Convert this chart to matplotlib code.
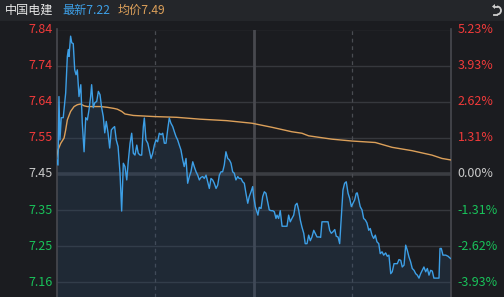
import matplotlib
matplotlib.use("Agg")
import matplotlib.pyplot as plt
from matplotlib.lines import Line2D
from matplotlib.patches import Rectangle, Arc, Polygon

plt.rcParams['font.family'] = ['Noto Sans CJK SC', 'DejaVu Sans']

# ---------------- data ----------------
stock_name = "中国电建"
last_label = "最新7.22"
avg_label = "均价7.49"

pre_close = 7.45
top_price = 7.84
left_labels = ['7.84', '7.74', '7.64', '7.55', '7.45', '7.35', '7.25', '7.16']
right_labels = ['5.23%', '3.93%', '2.62%', '1.31%', '0.00%', '-1.31%', '-2.62%', '-3.93%']

minutes = [0.1, 0.9, 1.5, 2.1, 2.9, 4.1, 5.6, 6.6, 7.2, 7.6, 8.6, 9.3, 10.2, 11.1, 11.9, 12.7,
           13.7, 14.8, 15.7, 16.8, 17.8, 18.8, 19.8, 20.8, 21.4, 22.4, 23.3, 24.5, 25.5, 26.5,
           27.5, 28.5, 29.4, 30.3, 31.4, 32.4, 33.4, 34.4, 35.4, 36.4, 37.5, 38.7, 39.7, 40.7,
           41.7, 42.8, 43.7, 44.8, 45.8, 46.8, 47.8, 48.9, 49.8, 50.9, 51.9, 52.9, 53.5, 54.5,
           55.6, 56.5, 57.6, 58.6, 59.6, 60.6, 61.6, 62.6, 63.7, 64.7, 65.7, 66.7, 67.7, 68.7,
           69.7, 70.8, 71.8, 72.8, 73.8, 74.8, 75.8, 76.9, 77.8, 78.9, 79.9, 80.9, 81.9, 83.0,
           83.9, 85.0, 86.0, 87.0, 88.0, 89.1, 90.0, 91.1, 92.1, 93.1, 94.1, 95.1, 96.1, 97.2,
           98.2, 99.2, 100.2, 101.2, 102.2, 103.2, 104.3, 105.3, 106.3, 107.3, 108.3, 109.3,
           110.4, 111.3, 112.4, 113.4, 114.4, 115.4, 116.5, 117.4, 118.5, 119.5, 120.1, 121.1,
           122.1, 122.7, 123.5, 124.6, 125.6, 126.6, 127.6, 128.6, 129.6, 130.7, 131.7, 132.7,
           133.7, 134.3, 135.3, 136.3, 137.4, 138.4, 139.4, 140.4, 141.4, 142.4, 143.4, 144.5,
           145.5, 146.5, 147.5, 148.5, 149.5, 150.6, 151.5, 152.6, 153.6, 154.6, 155.6, 156.7,
           157.6, 158.7, 160.3, 160.9, 161.7, 163.4, 165.4, 166.4, 167.4, 168.4, 169.5, 170.4,
           171.5, 172.5, 173.5, 174.5, 175.5, 176.5, 177.6, 178.6, 179.6, 180.6, 181.6, 182.6,
           183.2, 184.1, 185.0, 186.1, 187.1, 188.1, 189.1, 190.2, 191.1, 192.2, 193.2, 194.2,
           195.2, 196.3, 197.2, 198.3, 199.3, 200.5, 201.5, 202.5, 203.6, 204.5, 205.6, 206.6,
           207.6, 208.6, 209.7, 210.6, 211.7, 212.7, 213.7, 214.7, 215.7, 216.7, 217.8, 218.8,
           219.8, 220.8, 221.8, 222.8, 223.8, 224.9, 225.9, 226.9, 227.9, 228.9, 229.9, 231.0,
           231.9, 233.0, 233.6, 234.4, 235.4, 237.1, 238.5, 240.0]

prices = [7.488, 7.474, 7.659, 7.542, 7.602, 7.602, 7.669, 7.767, 7.786, 7.767, 7.822, 7.804,
          7.802, 7.731, 7.718, 7.731, 7.659, 7.691, 7.588, 7.510, 7.602, 7.596, 7.623, 7.659,
          7.691, 7.629, 7.642, 7.646, 7.673, 7.664, 7.629, 7.605, 7.561, 7.592, 7.561, 7.520,
          7.569, 7.574, 7.578, 7.542, 7.524, 7.452, 7.350, 7.479, 7.470, 7.434, 7.483, 7.533,
          7.560, 7.506, 7.501, 7.528, 7.506, 7.501, 7.501, 7.578, 7.601, 7.542, 7.533, 7.515,
          7.492, 7.506, 7.528, 7.542, 7.537, 7.560, 7.556, 7.560, 7.533, 7.533, 7.569, 7.601,
          7.587, 7.578, 7.564, 7.551, 7.542, 7.528, 7.515, 7.488, 7.470, 7.492, 7.425, 7.443,
          7.456, 7.483, 7.470, 7.456, 7.447, 7.434, 7.441, 7.443, 7.438, 7.447, 7.429, 7.411,
          7.438, 7.434, 7.425, 7.411, 7.420, 7.447, 7.456, 7.456, 7.474, 7.510, 7.492, 7.488,
          7.479, 7.456, 7.452, 7.434, 7.443, 7.438, 7.438, 7.429, 7.425, 7.398, 7.371, 7.389,
          7.402, 7.416, 7.389, 7.362, 7.348, 7.339, 7.360, 7.357, 7.389, 7.402, 7.398, 7.375,
          7.353, 7.351, 7.351, 7.348, 7.330, 7.339, 7.330, 7.351, 7.309, 7.309, 7.309, 7.309,
          7.339, 7.321, 7.330, 7.339, 7.366, 7.371, 7.353, 7.326, 7.307, 7.290, 7.262, 7.262,
          7.285, 7.270, 7.280, 7.298, 7.290, 7.280, 7.280, 7.279, 7.321, 7.321, 7.321, 7.298,
          7.290, 7.294, 7.300, 7.282, 7.280, 7.262, 7.334, 7.407, 7.425, 7.429, 7.398, 7.384,
          7.362, 7.371, 7.380, 7.398, 7.399, 7.380, 7.362, 7.353, 7.330, 7.326, 7.318, 7.298,
          7.303, 7.285, 7.276, 7.285, 7.267, 7.262, 7.235, 7.240, 7.231, 7.237, 7.228, 7.231,
          7.181, 7.186, 7.208, 7.208, 7.208, 7.219, 7.217, 7.199, 7.204, 7.258, 7.244, 7.226,
          7.213, 7.195, 7.190, 7.181, 7.177, 7.169, 7.181, 7.190, 7.199, 7.186, 7.195, 7.177,
          7.190, 7.188, 7.169, 7.169, 7.169, 7.169, 7.249, 7.249, 7.231, 7.231, 7.228, 7.222]

avg_minutes = [0.0, 0.9, 2.6, 4.6, 5.6, 6.6, 8.6, 10.7, 12.7, 14.7, 16.8, 18.8, 26.9, 30.9,
               35.0, 37.0, 39.7, 41.7, 46.8, 59.6, 73.2, 87.4, 103.7, 119.1, 131.3, 143.4,
               149.5, 153.6, 167.8, 180.0, 194.2, 204.4, 216.5, 228.7, 234.8, 240.0]
avg_prices = [7.492, 7.515, 7.533, 7.547, 7.569, 7.596, 7.619, 7.632, 7.637, 7.639, 7.634,
              7.632, 7.632, 7.630, 7.627, 7.625, 7.619, 7.612, 7.608, 7.605, 7.603, 7.598,
              7.594, 7.587, 7.576, 7.564, 7.560, 7.553, 7.544, 7.539, 7.535, 7.522, 7.513,
              7.501, 7.492, 7.488]

# ---------------- style ----------------
W, H = 504, 297
BG = '#1b1c20'
HEADER_BG = '#24262a'
GRID = '#36383d'
BLUE = '#3d9fe6'
ORANGE = '#dca05a'
RED = '#f03a3a'
GREEN = '#19c25a'
NEUTRAL = '#c9c9c9'

fig = plt.figure(figsize=(W / 100, H / 100), dpi=100, facecolor=BG)

# overlay axes in pixel coordinates for header / decorations
ov = fig.add_axes([0, 0, 1, 1], zorder=0)
ov.set_xlim(0, W)
ov.set_ylim(H, 0)
ov.axis('off')
ov.add_patch(Rectangle((0, 0), W, 21, facecolor=HEADER_BG, edgecolor='none'))

ov.text(5, 10.5, stock_name, color='#e6e6e6', fontsize=8.7, va='center', ha='left')
ov.text(62, 10.5, last_label, color=BLUE, fontsize=8.7, va='center', ha='left')
ov.text(118, 10.5, avg_label, color=ORANGE, fontsize=8.7, va='center', ha='left')

# return icon
icol = '#cfcfcf'
ov.add_patch(Arc((497, 10.5), 8, 8, theta1=-90, theta2=90, color=icol, lw=1.3))
ov.add_line(Line2D([494.5, 497], [6.5, 6.5], color=icol, lw=1.3))
ov.add_line(Line2D([493.5, 497], [14.5, 14.5], color=icol, lw=1.3))
ov.add_patch(Polygon([[492.0, 6.5], [495.0, 4.0], [495.0, 9.0]], closed=True,
                     facecolor=icol, edgecolor='none'))

# main chart axes
left_px, right_px, top_px, bottom_px = 56.5, 450.5, 29.5, 297.0
ax = fig.add_axes([left_px / W, 1 - bottom_px / H, (right_px - left_px) / W,
                   (bottom_px - top_px) / H], zorder=1)
ax.set_facecolor('none')

step = (top_price - pre_close) / 4.0
px_per_price = (174.0 - top_px) / (top_price - pre_close)
y_bottom = pre_close - (bottom_px - 174.0) / px_per_price
ax.set_xlim(0, 240)
ax.set_ylim(y_bottom, top_price)

levels = [pre_close + (4 - i) * step for i in range(8)]
for i, lv in enumerate(levels):
    if i == 4:
        ax.axhline(lv, color='#3b3d42', lw=2.6, zorder=1)
    else:
        ax.axhline(lv, color=GRID, lw=1.0, zorder=1)

ax.axvline(60, color='#4a4c52', lw=0.9, ls=(0, (3, 3)), zorder=1)
ax.axvline(180, color='#4a4c52', lw=0.9, ls=(0, (3, 3)), zorder=1)
ax.axvline(120, color='#48494f', lw=2.0, zorder=1)

for s in ['top', 'bottom']:
    ax.spines[s].set_visible(False)
for s in ['left', 'right']:
    ax.spines[s].set_color('#48494f')
    ax.spines[s].set_linewidth(1.2)

ax.fill_between(minutes, prices, y_bottom, color='#2b4b6e', alpha=0.28, lw=0, zorder=2)
ax.plot(minutes, prices, color=BLUE, lw=1.0, zorder=4)
ax.plot(avg_minutes, avg_prices, color=ORANGE, lw=1.0, zorder=3)

ax.set_xticks([])
ax.set_yticks([])

# axis labels
for i, lv in enumerate(levels):
    col = RED if i < 4 else (NEUTRAL if i == 4 else GREEN)
    ax.text(-4.2 / ((right_px - left_px) / 240), lv, left_labels[i], color=col, fontsize=9,
            ha='right', va='center', clip_on=False)
    ax.text(240 + 7.0 / ((right_px - left_px) / 240), lv, right_labels[i], color=col,
            fontsize=9, ha='left', va='center', clip_on=False)

fig.savefig('out.png', dpi=100, facecolor=BG)
